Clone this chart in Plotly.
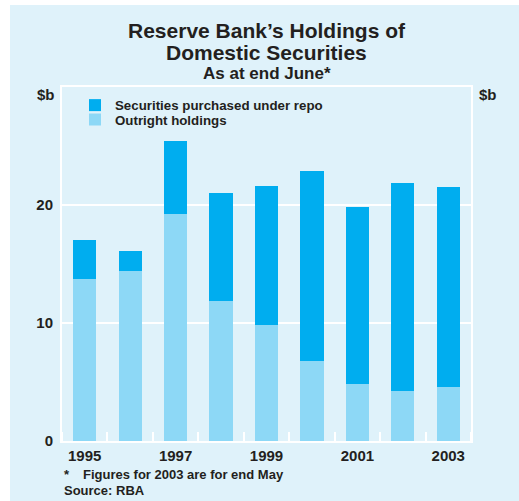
import plotly.graph_objects as go

years = [1995, 1996, 1997, 1998, 1999, 2000, 2001, 2002, 2003]
outright = [13.7, 14.4, 19.2, 11.9, 9.85, 6.8, 4.85, 4.2, 4.6]
repo = [3.35, 1.7, 6.2, 9.1, 11.75, 16.1, 14.95, 17.7, 16.9]
year_labels = [str(y) for y in years[::2]]
y_ticks = [0, 10, 20]

BG = "#dff2fa"
TXT = "#231f20"
FONT = "Arial"

L, R, T, B = 62, 48, 87, 59.5
W, H = 519, 501
pw, ph = W - L - R, H - T - B

def px(x):
    return (x - L) / pw

def py(y):
    return (H - B - y) / ph

def f(size):
    return dict(size=size, family=FONT, color=TXT, weight="bold")

fig = go.Figure()
fig.add_trace(go.Bar(x=years, y=outright, name="Outright holdings", legend="legend2",
                     marker=dict(color="#8dd8f6", line=dict(width=0)), width=0.51))
fig.add_trace(go.Bar(x=years, y=repo, name="Securities purchased under repo", legend="legend",
                     marker=dict(color="#00adef", line=dict(width=0)), width=0.51))

leg_common = dict(xanchor="left", yanchor="middle", bgcolor="rgba(0,0,0,0)",
                  font=f(13.3), itemclick=False, itemdoubleclick=False)

fig.update_layout(
    width=W, height=H,
    margin=dict(l=L, r=R, t=T, b=B, pad=0),
    barmode="stack",
    paper_bgcolor="white",
    plot_bgcolor=BG,
    font=f(15),
    showlegend=True,
    hovermode=False,
    legend=dict(x=px(75), y=py(105.5), **leg_common),
    legend2=dict(x=px(75), y=py(120), **leg_common),
    xaxis=dict(range=[years[0] - 0.5, years[-1] + 0.5], tickmode="array",
               tickvals=years[::2], ticktext=year_labels, ticks="",
               showline=True, linecolor="white", linewidth=2, mirror=True,
               showgrid=False, zeroline=False, tickfont=f(15),
               minor=dict(tick0=years[0] - 0.5, dtick=1, ticks="inside",
                          ticklen=9, tickwidth=2, tickcolor="white", showgrid=False)),
    yaxis=dict(range=[0, 30], tickvals=y_ticks, ticks="", showline=True,
               linecolor="white", linewidth=2, mirror=True,
               showgrid=True, gridcolor="white", gridwidth=1.5, zeroline=False,
               ticklabelstandoff=4, tickfont=f(15)),
    yaxis2=dict(range=[0, 30], tickvals=y_ticks, ticks="", overlaying="y",
                side="right", showgrid=False, zeroline=False, showline=False,
                ticklabelstandoff=5, tickfont=f(15)),
)

fig.add_shape(type="rect", xref="paper", yref="paper",
              x0=px(10), x1=px(W + 5), y0=py(H + 5), y1=py(5),
              fillcolor=BG, line=dict(width=0), layer="below")

ann = [
    ("Reserve Bank’s Holdings of", py(30), 21),
    ("Domestic Securities", py(52), 21),
    ("As at end June*", py(73), 17),
]
for text, y, s in ann:
    fig.add_annotation(text=text, x=0.5, y=y, xref="paper", yref="paper",
                       xanchor="center", yanchor="middle", showarrow=False, font=f(s))

fig.add_annotation(text="$b", x=px(57), y=py(95), xref="paper", yref="paper",
                   xanchor="right", yanchor="middle", showarrow=False, font=f(15))
fig.add_annotation(text="$b", x=px(477), y=py(95), xref="paper", yref="paper",
                   xanchor="left", yanchor="middle", showarrow=False, font=f(15))
fig.add_annotation(text="*", x=px(62), y=py(475), xref="paper", yref="paper",
                   xanchor="left", yanchor="middle", showarrow=False, font=f(13))
fig.add_annotation(text="Figures for 2003 are for end May", x=px(81), y=py(475),
                   xref="paper", yref="paper", xanchor="left", yanchor="middle",
                   showarrow=False, font=f(13))
fig.add_annotation(text="Source: RBA", x=px(62), y=py(491), xref="paper", yref="paper",
                   xanchor="left", yanchor="middle", showarrow=False, font=f(13))

fig.write_html("out.html", config={"displayModeBar": False},
               post_script="document.body.style.margin='0px';document.body.style.overflow='hidden';")
